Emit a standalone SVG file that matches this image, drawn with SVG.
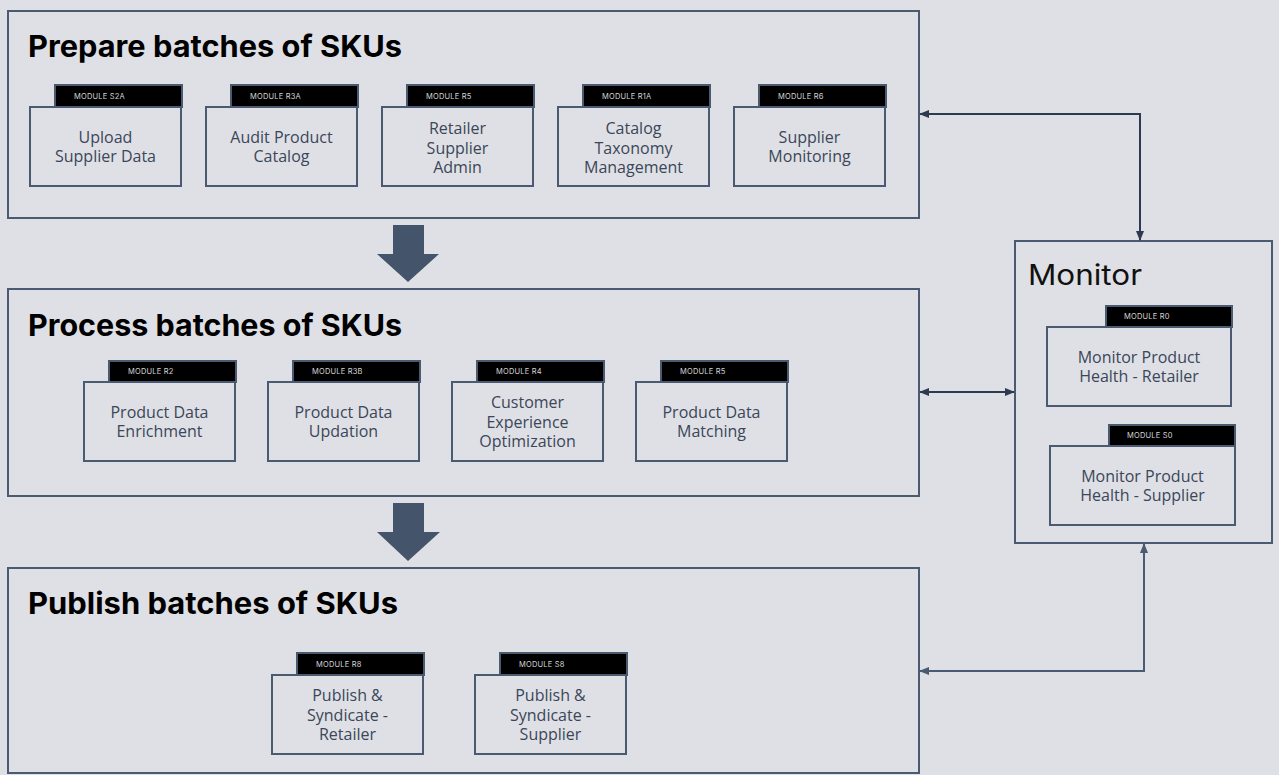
<svg xmlns="http://www.w3.org/2000/svg" width="1279" height="775" viewBox="0 0 1279 775">
<style>
.bg{fill:#dfe0e5}
.stage{fill:none;stroke:#4a5a70;stroke-width:2}
.title{font-family:Inter,"Open Sans",sans-serif;font-weight:700;font-size:30px;fill:#000}
.mon{font-family:Inter,"Open Sans",sans-serif;font-weight:400;font-size:28px;fill:#111}
.box{fill:#dfe0e5;stroke:#4a5a70;stroke-width:2}
.tab{fill:#000;stroke:#4a5a70;stroke-width:2}
.tl{font-family:Inter,"Liberation Sans",sans-serif;font-size:7.5px;fill:#d6d6d6;letter-spacing:0.2px}
.bt{font-family:"Open Sans",sans-serif;font-size:16px;fill:#3b4659;text-anchor:middle}
.big{fill:#44546a}
.c1{fill:none;stroke:#2e3a4f;stroke-width:2}
.c2{fill:none;stroke:#4a5a70;stroke-width:2}
</style>
<defs>
<marker id="a1" viewBox="0 0 10 10" refX="9" refY="5" markerWidth="10" markerHeight="10" markerUnits="userSpaceOnUse" orient="auto-start-reverse"><path d="M0,1 L10,5 L0,9 z" fill="#2e3a4f"/></marker>
<marker id="a2" viewBox="0 0 10 10" refX="9" refY="5" markerWidth="10" markerHeight="10" markerUnits="userSpaceOnUse" orient="auto-start-reverse"><path d="M0,1 L10,5 L0,9 z" fill="#4a5a70"/></marker>
</defs>
<rect class="bg" x="0" y="0" width="1279" height="775"/>

<g id="prepare">
<rect class="stage" x="8" y="11" width="911" height="207"/>
<text class="title" x="28" y="57" textLength="374" lengthAdjust="spacingAndGlyphs">Prepare batches of SKUs</text>
</g>
<g id="process">
<rect class="stage" x="8" y="289" width="911" height="207"/>
<text class="title" x="28" y="336" textLength="374" lengthAdjust="spacingAndGlyphs">Process batches of SKUs</text>
</g>
<g id="publish">
<rect class="stage" x="8" y="568" width="911" height="205"/>
<text class="title" x="28" y="614" textLength="370" lengthAdjust="spacingAndGlyphs">Publish batches of SKUs</text>
</g>
<g id="monitor">
<rect class="stage" x="1015" y="241" width="257" height="302"/>
<text class="mon" x="1028" y="285" textLength="114" lengthAdjust="spacingAndGlyphs">Monitor</text>
</g>

<g id="flow-arrows">
<path class="big" d="M393,225 H424 V254 H439 L408,282 L377,254 H393 z"/>
<path class="big" d="M393,503 H424 V532 H440 L408,561 L377,532 H393 z"/>
</g>

<g id="m-s2a">
<rect class="tab" x="55" y="85" width="127" height="22"/>
<text class="tl" x="74" y="99">MODULE S2A</text>
<rect class="box" x="30" y="107" width="151" height="79"/>
<text class="bt" x="105.5" y="143">Upload</text>
<text class="bt" x="105.5" y="162">Supplier Data</text>
</g>
<g id="m-r3a">
<rect class="tab" x="231" y="85" width="127" height="22"/>
<text class="tl" x="250" y="99">MODULE R3A</text>
<rect class="box" x="206" y="107" width="151" height="79"/>
<text class="bt" x="281.5" y="143">Audit Product</text>
<text class="bt" x="281.5" y="162">Catalog</text>
</g>
<g id="m-r5a">
<rect class="tab" x="407" y="85" width="127" height="22"/>
<text class="tl" x="426" y="99">MODULE R5</text>
<rect class="box" x="382" y="107" width="151" height="79"/>
<text class="bt" x="457.5" y="134">Retailer</text>
<text class="bt" x="457.5" y="153.5">Supplier</text>
<text class="bt" x="457.5" y="173">Admin</text>
</g>
<g id="m-r1a">
<rect class="tab" x="583" y="85" width="127" height="22"/>
<text class="tl" x="602" y="99">MODULE R1A</text>
<rect class="box" x="558" y="107" width="151" height="79"/>
<text class="bt" x="633.5" y="134">Catalog</text>
<text class="bt" x="633.5" y="153.5">Taxonomy</text>
<text class="bt" x="633.5" y="173">Management</text>
</g>
<g id="m-r6">
<rect class="tab" x="759" y="85" width="127" height="22"/>
<text class="tl" x="778" y="99">MODULE R6</text>
<rect class="box" x="734" y="107" width="151" height="79"/>
<text class="bt" x="809.5" y="143">Supplier</text>
<text class="bt" x="809.5" y="162">Monitoring</text>
</g>

<g id="m-r2">
<rect class="tab" x="109" y="361" width="127" height="21"/>
<text class="tl" x="128" y="374">MODULE R2</text>
<rect class="box" x="84" y="382" width="151" height="79"/>
<text class="bt" x="159.5" y="418">Product Data</text>
<text class="bt" x="159.5" y="437">Enrichment</text>
</g>
<g id="m-r3b">
<rect class="tab" x="293" y="361" width="127" height="21"/>
<text class="tl" x="312" y="374">MODULE R3B</text>
<rect class="box" x="268" y="382" width="151" height="79"/>
<text class="bt" x="343.5" y="418">Product Data</text>
<text class="bt" x="343.5" y="437">Updation</text>
</g>
<g id="m-r4">
<rect class="tab" x="477" y="361" width="127" height="21"/>
<text class="tl" x="496" y="374">MODULE R4</text>
<rect class="box" x="452" y="382" width="151" height="79"/>
<text class="bt" x="527.5" y="408">Customer</text>
<text class="bt" x="527.5" y="427.5">Experience</text>
<text class="bt" x="527.5" y="447">Optimization</text>
</g>
<g id="m-r5b">
<rect class="tab" x="661" y="361" width="127" height="21"/>
<text class="tl" x="680" y="374">MODULE R5</text>
<rect class="box" x="636" y="382" width="151" height="79"/>
<text class="bt" x="711.5" y="418">Product Data</text>
<text class="bt" x="711.5" y="437">Matching</text>
</g>

<g id="m-r8">
<rect class="tab" x="297" y="653" width="127" height="22"/>
<text class="tl" x="316" y="667">MODULE R8</text>
<rect class="box" x="272" y="675" width="151" height="79"/>
<text class="bt" x="347.5" y="701">Publish &amp;</text>
<text class="bt" x="347.5" y="720.5">Syndicate -</text>
<text class="bt" x="347.5" y="740">Retailer</text>
</g>
<g id="m-s8">
<rect class="tab" x="500" y="653" width="127" height="22"/>
<text class="tl" x="519" y="667">MODULE S8</text>
<rect class="box" x="475" y="675" width="151" height="79"/>
<text class="bt" x="550.5" y="701">Publish &amp;</text>
<text class="bt" x="550.5" y="720.5">Syndicate -</text>
<text class="bt" x="550.5" y="740">Supplier</text>
</g>

<g id="m-r0">
<rect class="tab" x="1106" y="306" width="126" height="21"/>
<text class="tl" x="1124" y="319">MODULE R0</text>
<rect class="box" x="1047" y="327" width="184" height="79"/>
<text class="bt" x="1139" y="363">Monitor Product</text>
<text class="bt" x="1139" y="382">Health - Retailer</text>
</g>
<g id="m-s0">
<rect class="tab" x="1109" y="425" width="126" height="21"/>
<text class="tl" x="1127" y="438">MODULE S0</text>
<rect class="box" x="1050" y="446" width="185" height="79"/>
<text class="bt" x="1142.5" y="482">Monitor Product</text>
<text class="bt" x="1142.5" y="501">Health - Supplier</text>
</g>

<g id="connectors">
<path class="c1" d="M920,114 H1140 V240" marker-start="url(#a1)" marker-end="url(#a1)"/>
<path class="c1" d="M920,392 H1014" marker-start="url(#a1)" marker-end="url(#a1)"/>
<path class="c2" d="M1144,544 V671 H920" marker-start="url(#a2)" marker-end="url(#a2)"/>
</g>
</svg>
